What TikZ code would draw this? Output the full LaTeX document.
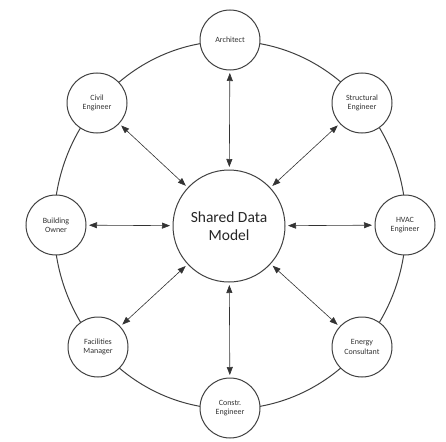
\documentclass[tikz,border=0pt]{standalone}
\usepackage{fontspec}
\setmainfont{Carlito}
\usetikzlibrary{arrows.meta}
\begin{document}
\begin{tikzpicture}[x=1pt,y=-1pt,
  outer/.style={circle,draw=black!75,line width=1pt,fill=white,minimum size=60pt,inner sep=0pt,align=center,font=\fontsize{8}{9.5}\selectfont,text=black!80},
  hub/.style={circle,draw=black!75,line width=1pt,fill=white,minimum size=112pt,inner sep=0pt,align=center,font=\fontsize{15.5}{18.5}\selectfont,text=black!85},
  link/.style={{Triangle[length=8pt,width=6pt]}-{Triangle[length=8pt,width=6pt]},line width=0.6pt,black!80,shorten <=2.5pt,shorten >=2.5pt},
  ring/.style={draw=black!75,line width=1pt}]
\useasboundingbox (0,0) rectangle (446,441);
\draw[ring] (230,225) ellipse [x radius=176, y radius=184];
\node[hub] (c) at (229,226) {Shared Data\\Model};
\node[outer] (a) at (230,40) {Architect};
\node[outer] (ce) at (97,103) {Civil\\Engineer};
\node[outer] (se) at (362,103) {Structural\\Engineer};
\node[outer] (bo) at (56,225) {Building\\Owner};
\node[outer] (he) at (405,225) {HVAC\\Engineer};
\node[outer] (fm) at (98,347) {Facilities\\Manager};
\node[outer] (ec) at (362,347) {Energy\\Consultant};
\node[outer] (co) at (230,408) {Constr.\\Engineer};
\foreach \n in {a,ce,se,bo,he,fm,ec,co} \draw[link] (c) -- (\n);
\end{tikzpicture}
\end{document}
